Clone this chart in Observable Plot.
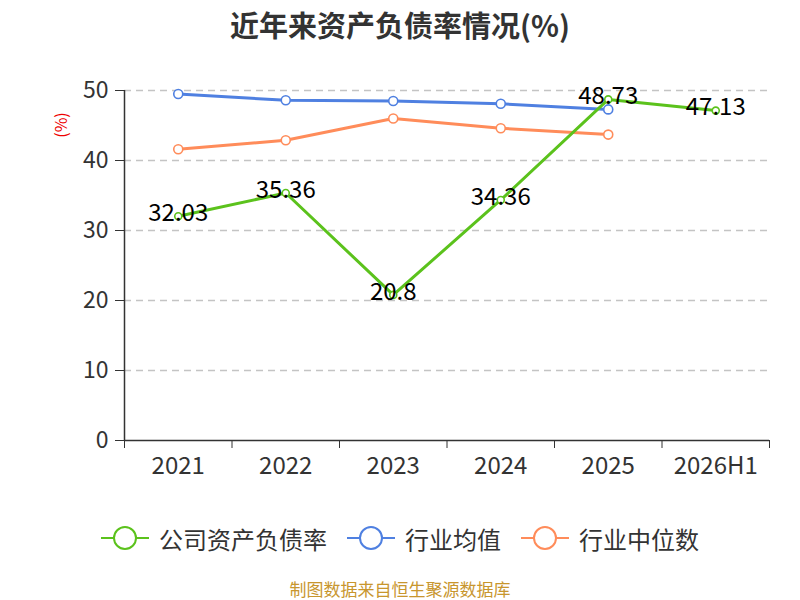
<!DOCTYPE html>
<html><head><meta charset="utf-8">
<script src="https://cdn.jsdelivr.net/npm/d3@7"></script>
<script src="https://cdn.jsdelivr.net/npm/@observablehq/plot@0.6"></script>
<style>
body{margin:0;background:#fff;font-family:"Noto Sans CJK SC","Noto Sans",sans-serif;width:800px;height:600px;overflow:hidden;position:relative}
#title{position:absolute;top:2px;left:0;width:800px;height:44px;line-height:44px;text-align:center;font-size:29px;font-weight:bold;color:#333}
#chart{position:absolute;top:45px;left:0}
#legend{position:absolute;top:521px;left:0;width:800px;height:34px;display:flex;justify-content:center;align-items:center;font-size:24px;color:#333}
.item{display:flex;align-items:center;margin:0 10px}
.item svg{margin-right:10px}
#footer{position:absolute;top:579px;left:0;width:800px;height:20px;line-height:20px;text-align:center;font-size:17px;color:#c8962e}
</style></head>
<body>
<div id="title">近年来资产负债率情况(%)</div>
<div id="chart"></div>
<div id="legend"></div>
<div id="footer">制图数据来自恒生聚源数据库</div>
<script>
const categories = ["2021","2022","2023","2024","2025","2026H1"];
const companyRate = [32.03, 35.36, 20.8, 34.36, 48.73, 47.13];
const industryMean = [49.5, 48.6, 48.5, 48.1, 47.3];
const industryMedian = [41.6, 42.9, 46.0, 44.6, 43.7];
const seriesNames = ["公司资产负债率", "行业均值", "行业中位数"];
const colors = ["#5bc21c", "#4f80e1", "#ff8c5a"];
const yTicks = [0, 10, 20, 30, 40, 50];

const comp = companyRate.map((v, i) => ({i, v}));
const mean = industryMean.map((v, i) => ({i, v}));
const med = industryMedian.map((v, i) => ({i, v}));
const n = categories.length;
const idx = d3.range(n);
const bounds = d3.range(n + 1).map(i => i - 0.5);

const plot = Plot.plot({
  width: 800, height: 445,
  marginTop: 45, marginBottom: 50, marginLeft: 124, marginRight: 31,
  style: {fontFamily: '"Noto Sans CJK SC","Noto Sans",sans-serif', fontSize: "23px", color: "#333"},
  x: {type: "linear", domain: [-0.5, n - 0.5]},
  y: {domain: [0, 50]},
  marks: [
    Plot.gridY(yTicks.filter(d => d > 0), {stroke: "#c4c4c4", strokeOpacity: 1, strokeDasharray: "7,5", strokeWidth: 1.3}),
    Plot.axisY(yTicks, {tickSize: 9, tickPadding: 7, fontSize: 23, stroke: "#333", label: null, fill: "#333"}),
    Plot.axisX(idx, {tickSize: 0, tickPadding: 16, fontSize: 24, tickFormat: i => categories[i], label: null, fill: "#333"}),
    Plot.axisX(bounds, {tickSize: 8, tickFormat: () => "", label: null, stroke: "#333"}),
    Plot.ruleY([0], {stroke: "#333", strokeWidth: 1.5}),
    Plot.ruleX([-0.5], {y1: 0, y2: 50, stroke: "#333", strokeWidth: 1.5}),
    Plot.line(mean, {x: "i", y: "v", stroke: colors[1], strokeWidth: 3}),
    Plot.line(med, {x: "i", y: "v", stroke: colors[2], strokeWidth: 3}),
    Plot.line(comp, {x: "i", y: "v", stroke: colors[0], strokeWidth: 3}),
    Plot.dot(mean, {x: "i", y: "v", r: 4.5, stroke: colors[1], fill: "#fff", strokeWidth: 1.6}),
    Plot.dot(med, {x: "i", y: "v", r: 4.5, stroke: colors[2], fill: "#fff", strokeWidth: 1.6}),
    Plot.dot(comp, {x: "i", y: "v", r: 3.5, stroke: colors[0], fill: "#fff", strokeWidth: 1.6}),
    Plot.text(comp, {x: "i", y: "v", dy: -3, text: d => String(d.v), fontSize: 24, fill: "#000"})
  ]
});
const svg = d3.select(plot);
svg.append("text").attr("transform", "translate(63,80) rotate(-90)")
  .attr("text-anchor", "middle").attr("dominant-baseline", "middle")
  .attr("fill", "#e00").attr("font-size", 16).text("(%)");
document.getElementById("chart").appendChild(plot);

const legend = document.getElementById("legend");
seriesNames.forEach((name, k) => {
  const item = document.createElement("div");
  item.className = "item";
  item.innerHTML = `<svg width="48" height="26"><line x1="0" x2="48" y1="13" y2="13" stroke="${colors[k]}" stroke-width="2"/><circle cx="24" cy="13" r="11" fill="#fff" stroke="${colors[k]}" stroke-width="2"/></svg><span>${name}</span>`;
  legend.appendChild(item);
});
</script>
</body></html>
